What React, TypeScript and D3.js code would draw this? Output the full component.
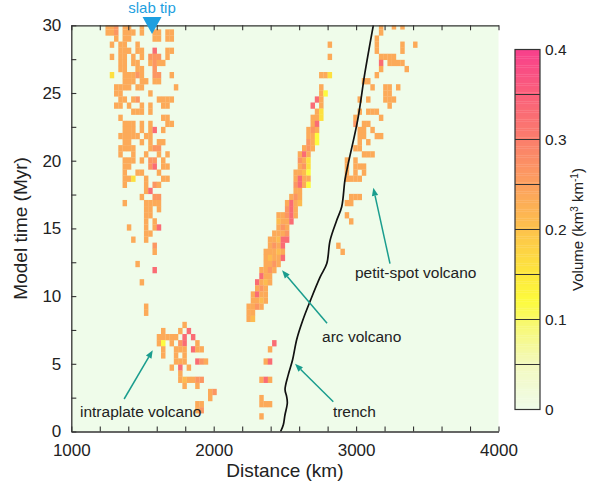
import { useEffect, useRef } from "react"
import * as d3 from "d3"

const FONT = "'Liberation Sans', Arial, Helvetica, sans-serif"

// axis ticks
const xMajor = [1000, 2000, 3000, 4000]
const xMinor = d3.range(1000, 4001, 200)
const yMinor = d3.range(0, 30.01, 2.5)
const cbTicks = [0, 0.1, 0.2, 0.3, 0.4]
const cbLines = [0.05, 0.1, 0.15, 0.2, 0.25, 0.3, 0.35]

// grid of the volcanic output map
const cellKm = 30
const cellMyr = 0.45
const topRow = 66

// colour code of a cell -> volume (km3/km)
const levelValues: Record<string, number> = {
  "3": 0.12, "4": 0.16, "5": 0.21, "6": 0.235, "7": 0.265, "8": 0.33, "9": 0.36
}

// rows from the top (30 Myr) downward, "column[:code]"
const westRows = [
  "8 9 10:7 12 13 16",
  "8 9 10:7 12 13 14 16 19 20 22 23",
  "10 12 13 19 20 22 23",
  "9 11 12 15",
  "11 12 13 15 16 19:8 22 23",
  "9 11 12 14 16 18:7 19:7 20:7 22",
  "11 12 14 15 18 19:7 20 21",
  "11 12 15 16 19:7",
  "9:4 12 13 14 15:7 16 19:7 20:7 23",
  "12 13 14 16 17 19 20",
  "10 11 12 13 15 16 24",
  "10 11 18",
  "11 12 14 15:7 20 21 22 23",
  "10 11 13 16 18 21 22",
  "14 15 16 18",
  "11 21 22",
  "12 13 14 16 18 22 23",
  "12 13 14 16 18 19:8 21",
  "11 12 13 14 15 17 18",
  "12 13 16 18 20 21",
  "11 12 13 14 18 19:7 20:7",
  "11 14 17 20 22",
  "12 13 14 16 18:7 19:7 21",
  "12 13 18:7 19:8 21 22",
  "12 15 16 20",
  "12 13 14:4 17 21 22",
  "12 17 19:7 20",
  "17 18:8",
  "16 19:7 20:7",
  "12 17 18 19 20",
  "17 18 20",
  "17 18",
  "17 19",
  "13 17 19 20:8",
  "17 18",
  "14 17",
  "19:7",
  "19",
  "",
  "15",
  "19:8",
  "",
  "16",
  "",
  "",
  "",
  "17",
  "17",
  "",
  "26",
  "21 25 27:8",
  "20 21 22 23 24 26:8 28:8",
  "20 21:3 23 25:7 26:8 29",
  "21 24 25 26 28:8 29 30",
  "21 24 26",
  "24 25 26 29:8 30:7 31",
  "23 25:8 27",
  "25",
  "25 26:5 27 28 29:7 30:7",
  "26 29",
  "32 33:7",
  "32",
  "29 30",
  "29 30:7",
]

const eastRows = [
  "72 75 77",
  "72",
  "71",
  "60 71 77 80",
  "71 77",
  "60 72 73 74 75",
  "72:8 74 75 76 77",
  "72 78",
  "58 59 60:4 71",
  "68 69",
  "58 70 73 74 76",
  "58 59:3 73 74",
  "57:8 58 67 69 73 74 75",
  "56:8 58 74",
  "57 58:4 67 69 70 71",
  "56 57 58:4 66 72",
  "56 57:8 66:7 68 69",
  "55 56:7 57 67 68 70",
  "55 56 57:3 67 68 71 72",
  "55:7 56 57:3 67 69",
  "54 55:7 56 66 67",
  "53 54:8 55 68 69 70",
  "53:7 54 55:4 64 66",
  "53 54:7 55:4 64 66 67 68",
  "52 53 54:5 55:3 64 66 68",
  "52 53:8 54 55 64 65 66 67",
  "52:7 53:8 54 55:3",
  "52 53",
  "51 52:7 53 65 66 67",
  "50 51:8 52 53:5 64 65",
  "50:7 51:8 52",
  "48 49 50:7 51:8 52 64",
  "48:5 49 50 51:8 65",
  "48 49:7 50",
  "47 48 49 50:7",
  "46 47 48:5 49:8 50:8",
  "46 47:7 48 49:8 62",
  "45 46 47 48:5 49 63",
  "45 46:5 47 48 49:8",
  "45 46 47:7 48",
  "44 45 46:7 47",
  "44:8 45 46",
  "43:8 44 45:5 46",
  "43 44:7 45",
  "42 43:8 44 45",
  "42 43 44:5 45",
  "41 42 43:7 44",
  "41 42",
  "41 42:5",
  "",
  "",
  "",
  "47:8",
  "46",
  "",
  "45 46:8",
  "",
  "",
  "44 45:8 46",
  "",
  "",
  "44",
  "44 45 46",
  "",
  "44",
]

// colour map stops
const cmapValues = [0, 0.05, 0.1, 0.12, 0.15, 0.2, 0.25, 0.3, 0.35, 0.4]
const cmapColors = ["#effcea", "#f3f9bf", "#f8f968", "#fdfb3e", "#fde83c", "#fdc24c", "#fca05e", "#fb7e6c", "#fa607a", "#f8408c"]

// trench position
const trenchKm = [2470, 2489, 2500, 2517, 2512, 2501, 2524, 2554, 2583, 2625, 2680, 2747, 2794, 2817, 2864, 2899, 2922, 2945, 3011, 3062, 3121]
const trenchMyr = [0, 0.5, 1.2, 2.1, 2.6, 3.1, 4.2, 5.3, 6.8, 8.2, 9.7, 11.4, 12.4, 14.1, 15.6, 16.6, 18.6, 19.8, 23.0, 26.5, 30]

// labels with arrows: text [km, Myr], arrow tail [km, Myr], head [km, Myr]
const notes = [
  { label: "intraplate volcano", at: [1061, 1.07], tail: [1371, 2.4], head: [1572, 6.0] },
  { label: "arc volcano", at: [2761, 6.6], tail: [2796, 8.0], head: [2480, 11.9] },
  { label: "trench", at: [2837, 1.07], tail: [2840, 2.2], head: [2571, 5.0] },
  { label: "petit-spot volcano", at: [2992, 11.3], tail: [3238, 12.4], head: [3121, 18.0] },
]
const slabTipKm = 1567

type Cell = { col: number; row: number; value: number }
function parseRows(rows: string[]): Cell[] {
  const out: Cell[] = []
  rows.forEach((r, row) => {
    r.split(" ").filter(Boolean).forEach((tok) => {
      const [c, code] = tok.split(":")
      out.push({ col: +c, row, value: levelValues[code ?? "6"] })
    })
  })
  return out
}

function Axis({ gen, transform }: { gen: any; transform: string }) {
  const ref = useRef<SVGGElement>(null)
  useEffect(() => {
    if (!ref.current) return
    const g = d3.select(ref.current)
    g.call(gen)
    g.attr("font-family", FONT).attr("font-size", 17)
    g.select(".domain").attr("stroke", "#333").attr("stroke-width", 1.3)
    g.selectAll(".tick line").attr("stroke", "#333").attr("stroke-width", 1.1)
    g.selectAll(".tick text").attr("fill", "#222")
  }, [gen])
  return <g ref={ref} transform={transform} />
}

export default function App() {
  const x = d3.scaleLinear().domain([1000, 4000]).range([71.3, 498.5])
  const y = d3.scaleLinear().domain([0, 30]).range([431.5, 25.3])
  const color = d3.scaleLinear<string>().domain(cmapValues).range(cmapColors).clamp(true)
  const cb = d3.scaleLinear().domain([0, 0.4]).range([409.5, 49.5])
  const cbX = 515, cbW = 25

  const cells = [...parseRows(westRows), ...parseRows(eastRows)]

  const xAxis = d3.axisBottom(x).tickValues(xMinor).tickSizeInner(-5).tickSizeOuter(0).tickPadding(12)
    .tickFormat((d: any) => (xMajor.includes(+d) ? String(d) : ""))
  const xTop = d3.axisTop(x).tickValues(xMinor).tickSizeInner(-5).tickSizeOuter(0).tickFormat(() => "")
  const yAxis = d3.axisLeft(y).tickValues(yMinor).tickSizeInner(-5).tickSizeOuter(0).tickPadding(10)
    .tickFormat((d: any) => (+d % 5 === 0 ? String(d) : ""))

  const trench = d3.line<number>()
    .x((_, i) => x(trenchKm[i]))
    .y((d) => y(d))
    .curve(d3.curveCatmullRom)(trenchMyr)

  const slices = d3.range(0, 0.4, 0.0025)
  const teal = "#1a9d8e"

  return (
    <div style={{ position: "absolute", left: 0, top: 0 }}>
      <svg width={591} height={495} style={{ display: "block" }} fontFamily={FONT}>
        <rect width={591} height={495} fill="#fff" />
        <rect x={x(1000)} y={y(30)} width={x(4000) - x(1000)} height={y(0) - y(30)} fill={color(0)} />
        {cells.map((c, i) => {
          const km = 1000 + c.col * cellKm
          const tb = (topRow - c.row) * cellMyr
          const tt = Math.min(30, tb + cellMyr)
          const x0 = x(km)
          const y0 = y(tt)
          return (
            <rect key={i} x={x0} y={y0} width={x(km + cellKm) - x0 + 0.2} height={y(tb) - y0 + 0.2}
              fill={color(c.value)} />
          )
        })}
        <path d={trench ?? ""} fill="none" stroke="#111" strokeWidth={1.7} />
        <Axis gen={xAxis} transform={`translate(0,${y(0)})`} />
        <Axis gen={xTop} transform={`translate(0,${y(30)})`} />
        <Axis gen={yAxis} transform={`translate(${x(1000)},0)`} />

        {/* slab tip */}
        <polygon
          points={`${x(slabTipKm) - 9.5},17 ${x(slabTipKm) + 9.5},17 ${x(slabTipKm)},34`}
          fill="#1e9fe0" />
        <text x={x(slabTipKm)} y={13} textAnchor="middle" fontSize={15} fill="#1e9fe0">slab tip</text>

        {notes.map((n) => {
          const x1 = x(n.tail[0]), y1 = y(n.tail[1])
          const x2 = x(n.head[0]), y2 = y(n.head[1])
          const a = Math.atan2(y2 - y1, x2 - x1)
          const L = 8, Wd = 3.2
          const bx = x2 - L * Math.cos(a), by = y2 - L * Math.sin(a)
          const p1 = [bx + Wd * Math.sin(a), by - Wd * Math.cos(a)]
          const p2 = [bx - Wd * Math.sin(a), by + Wd * Math.cos(a)]
          return (
            <g key={n.label}>
              <line x1={x1} y1={y1} x2={bx} y2={by} stroke={teal} strokeWidth={1.5} />
              <polygon points={`${x2},${y2} ${p1[0]},${p1[1]} ${p2[0]},${p2[1]}`} fill={teal} />
              <text x={x(n.at[0])} y={y(n.at[1])} fontSize={15.5} fill="#222">{n.label}</text>
            </g>
          )
        })}

        <text x={x(2500)} y={477} textAnchor="middle" fontSize={19} fill="#222">Distance (km)</text>
        <text transform={`translate(27,${(y(0) + y(30)) / 2}) rotate(-90)`} textAnchor="middle" fontSize={19} fill="#222">
          Model time (Myr)
        </text>

        {/* colour bar */}
        {slices.map((v) => (
          <rect key={v} x={cbX} y={cb(v + 0.0025)} width={cbW} height={cb(v) - cb(v + 0.0025) + 0.3}
            fill={color(v + 0.00125)} />
        ))}
        {cbLines.map((v) => (
          <line key={v} x1={cbX} x2={cbX + cbW} y1={cb(v)} y2={cb(v)} stroke="#333" strokeWidth={1} />
        ))}
        <rect x={cbX} y={cb(0.4)} width={cbW} height={cb(0) - cb(0.4)} fill="none" stroke="#333" strokeWidth={1.2} />
        {cbTicks.map((v) => (
          <text key={v} x={cbX + cbW + 5} y={cb(v)} dy="0.35em" fontSize={15.5} fill="#222">{String(v)}</text>
        ))}
        <text transform={`translate(583,${(cb(0) + cb(0.4)) / 2}) rotate(-90)`} textAnchor="middle" fontSize={15} fill="#222">
          Volume (km<tspan baselineShift="super" fontSize={10}>3</tspan> km<tspan baselineShift="super" fontSize={10}>-1</tspan>)
        </text>
      </svg>
    </div>
  )
}
